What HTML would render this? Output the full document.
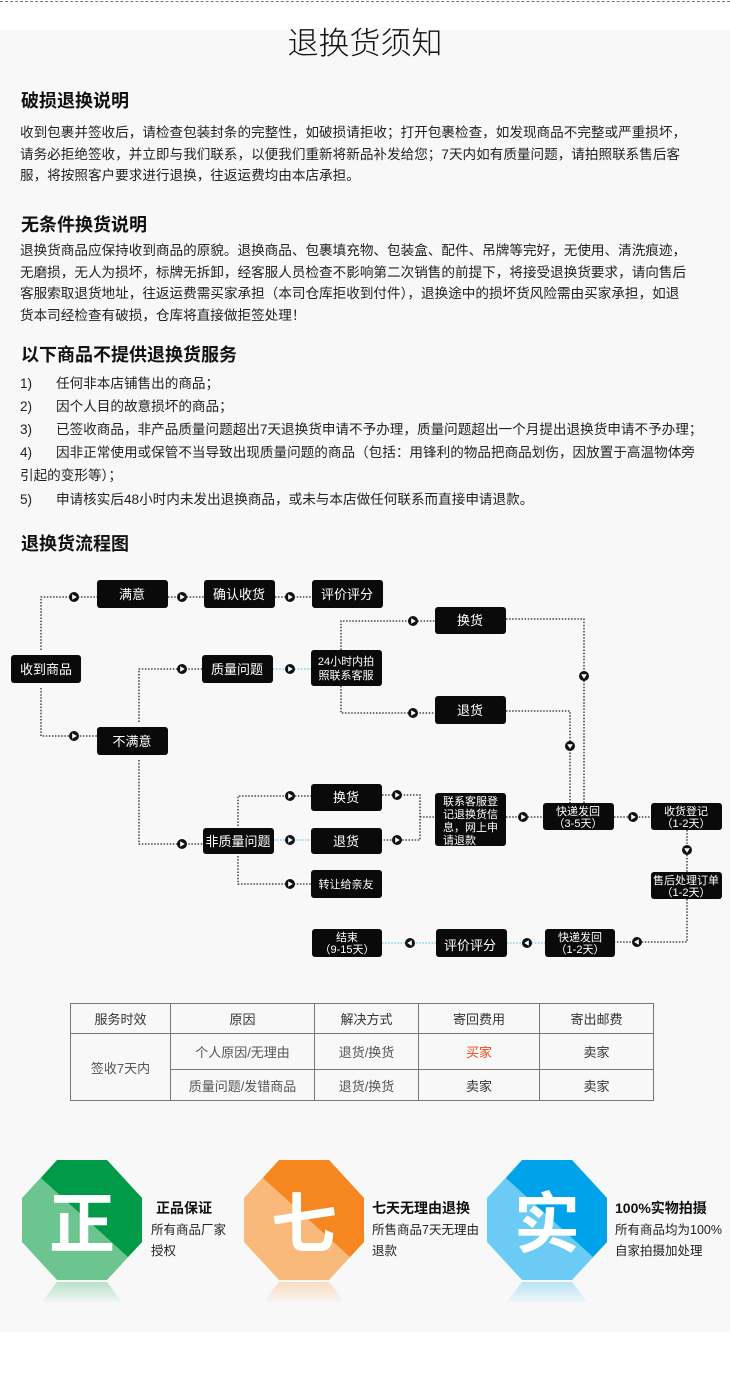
<!DOCTYPE html>
<html><head><meta charset="utf-8"><style>
*{margin:0;padding:0;box-sizing:border-box}
body{width:730px;height:1392px;background:#fff;position:relative;overflow:hidden;font-family:"Liberation Sans","Noto Sans CJK SC",sans-serif;color:#111}
.bg{position:absolute;left:0;top:30px;width:730px;height:1302px;background:#f8f8f8}
.dash{position:absolute;left:0;top:1px;width:730px;border-top:1px dashed #777}
h1{position:absolute;left:0;width:730px;top:18px;text-align:center;font-weight:300;font-size:31px;color:#111}
h2{position:absolute;left:21px;font-size:18px;font-weight:bold;color:#111}
.p{position:absolute;left:20px;font-size:13.6px;line-height:21.5px;color:#222;white-space:nowrap}
.li{position:absolute;left:20px;font-size:13.6px;line-height:18px;color:#222;white-space:nowrap}
.li span{display:inline-block;width:36px}
table{position:absolute;left:70px;top:1003px;width:584px;border-collapse:collapse;font-size:13px;color:#333}
td{border:1px solid #777;text-align:center;height:30px}
.bt{position:absolute;font-size:14px;font-weight:bold;color:#111;white-space:nowrap}
.bd{position:absolute;font-size:12.5px;line-height:21px;color:#222;white-space:nowrap}
</style></head><body>
<div class="bg"></div>
<div class="dash"></div>
<h1>退换货须知</h1>
<h2 style="top:87px">破损退换说明</h2>
<div class="p" style="top:122px">收到包裹并签收后，请检查包装封条的完整性，如破损请拒收；打开包裹检查，如发现商品不完整或严重损坏，<br>请务必拒绝签收，并立即与我们联系，以便我们重新将新品补发给您；7天内如有质量问题，请拍照联系售后客<br>服，将按照客户要求进行退换，往返运费均由本店承担。</div>
<h2 style="top:211px">无条件换货说明</h2>
<div class="p" style="top:240px">退换货商品应保持收到商品的原貌。退换商品、包裹填充物、包装盒、配件、吊牌等完好，无使用、清洗痕迹，<br>无磨损，无人为损坏，标牌无拆卸，经客服人员检查不影响第二次销售的前提下，将接受退换货要求，请向售后<br>客服索取退货地址，往返运费需买家承担（本司仓库拒收到付件），退换途中的损坏货风险需由买家承担，如退<br>货本司经检查有破损，仓库将直接做拒签处理！</div>
<h2 style="top:341px">以下商品不提供退换货服务</h2>
<div class="li" style="top:375px"><span>1)</span>任何非本店铺售出的商品；</div>
<div class="li" style="top:398px"><span>2)</span>因个人目的故意损坏的商品；</div>
<div class="li" style="top:421px"><span>3)</span>已签收商品，非产品质量问题超出7天退换货申请不予办理，质量问题超出一个月提出退换货申请不予办理；</div>
<div class="li" style="top:444px"><span>4)</span>因非正常使用或保管不当导致出现质量问题的商品（包括：用锋利的物品把商品划伤，因放置于高温物体旁</div>
<div class="li" style="top:467px">引起的变形等）；</div>
<div class="li" style="top:491px"><span>5)</span>申请核实后48小时内未发出退换商品，或未与本店做任何联系而直接申请退款。</div>
<h2 style="top:530px">退换货流程图</h2>

<svg style="position:absolute;left:0;top:0" width="730" height="1000" font-family="Liberation Sans,Noto Sans CJK SC,sans-serif">
<defs>
<g id="ar"><circle r="5" fill="#111"/><path d="M-1.8,-2.8 L2.8,0 L-1.8,2.8Z" fill="#fff"/></g>
</defs>
<g fill="none" stroke="#222" stroke-width="1.3" stroke-dasharray="1.5,1.6">
<path d="M41,650 V597 H97"/>
<path d="M41,688 V736 H97"/>
<path d="M168,597 H204 M275,597 H312"/>
<path d="M139,722 V669 H202"/>
<path d="M341,650 V621 H435 M341,686 V713 H435"/>
<path d="M506,619 H584 V803"/>
<path d="M506,711 H570 V803"/>
<path d="M139,760 V844 H203"/>
<path d="M238,826 V796 H311 M238,856 V884 H311"/>
<path d="M382,795 H420 V840 H382 M420,817 H435"/>
<path d="M506,817 H543 M614,817 H651"/>
<path d="M687,830 V872 M687,899 V942 H615"/>
</g>
<g fill="none" stroke="#6cc6f0" stroke-width="1.3" stroke-dasharray="1.5,1.6">
<path d="M273,669 H311"/>
<path d="M274,840 H311"/>
<path d="M507,943 H545"/>
<path d="M382,943 H436"/>
</g>
<use href="#ar" x="74" y="597"/><use href="#ar" x="74" y="736"/>
<use href="#ar" x="182" y="597"/><use href="#ar" x="290" y="597"/>
<use href="#ar" x="182" y="669"/><use href="#ar" x="290" y="669"/>
<use href="#ar" x="413" y="621"/><use href="#ar" x="413" y="713"/>
<use href="#ar" x="182" y="844"/>
<use href="#ar" x="290" y="796"/><use href="#ar" x="290" y="840"/><use href="#ar" x="290" y="884"/>
<use href="#ar" x="397" y="795"/><use href="#ar" x="397" y="840"/>
<use href="#ar" x="523" y="817"/><use href="#ar" x="633" y="817"/>
<g transform="translate(584,676) rotate(90)"><use href="#ar"/></g>
<g transform="translate(570,746) rotate(90)"><use href="#ar"/></g>
<g transform="translate(687,850) rotate(90)"><use href="#ar"/></g>
<g transform="translate(637,942) rotate(180)"><use href="#ar"/></g>
<g transform="translate(527,943) rotate(180)"><use href="#ar"/></g>
<g transform="translate(410,943) rotate(180)"><use href="#ar"/></g>
<g fill="#0a0a0a">
<rect x="11" y="655" width="70" height="28" rx="3"/>
<rect x="97" y="580" width="71" height="28" rx="3"/>
<rect x="204" y="580" width="71" height="28" rx="3"/>
<rect x="312" y="580" width="71" height="28" rx="3"/>
<rect x="97" y="727" width="71" height="28" rx="3"/>
<rect x="202" y="655" width="71" height="28" rx="3"/>
<rect x="311" y="650" width="71" height="36" rx="3"/>
<rect x="435" y="607" width="71" height="27" rx="3"/>
<rect x="435" y="696" width="71" height="28" rx="3"/>
<rect x="311" y="784" width="71" height="27" rx="3"/>
<rect x="311" y="828" width="71" height="26" rx="3"/>
<rect x="203" y="828" width="71" height="26" rx="3"/>
<rect x="311" y="870" width="71" height="28" rx="3"/>
<rect x="435" y="793" width="71" height="53" rx="3"/>
<rect x="543" y="803" width="71" height="27" rx="3"/>
<rect x="651" y="803" width="71" height="27" rx="3"/>
<rect x="651" y="872" width="71" height="27" rx="3"/>
<rect x="545" y="929" width="70" height="28" rx="3"/>
<rect x="436" y="929" width="71" height="28" rx="3"/>
<rect x="312" y="929" width="70" height="28" rx="3"/>
</g>
<g fill="#fff" font-size="13" text-anchor="middle">
<text x="46" y="674">收到商品</text>
<text x="132" y="599">满意</text>
<text x="239" y="599">确认收货</text>
<text x="347" y="599">评价评分</text>
<text x="132" y="746">不满意</text>
<text x="237" y="674">质量问题</text>
<text x="470" y="625">换货</text>
<text x="470" y="715">退货</text>
<text x="346" y="802">换货</text>
<text x="346" y="846">退货</text>
<text x="238" y="846">非质量问题</text>
<text x="470" y="950">评价评分</text>
</g>
<g fill="#fff" font-size="11" text-anchor="middle">
<text x="346" y="665">24小时内拍</text><text x="346" y="679">照联系客服</text>
<text x="346" y="888">转让给亲友</text>
<text x="578" y="815">快递发回</text><text x="578" y="827">（3-5天）</text>
<text x="686" y="815">收货登记</text><text x="686" y="827">（1-2天）</text>
<text x="686" y="884">售后处理订单</text><text x="686" y="896">（1-2天）</text>
<text x="580" y="941">快递发回</text><text x="580" y="953">（1-2天）</text>
<text x="347" y="941">结束</text><text x="347" y="953">（9-15天）</text>
</g>
<g fill="#fff" font-size="11">
<text x="443" y="805">联系客服登</text><text x="443" y="818">记退换货信</text><text x="443" y="831">息，网上申</text><text x="443" y="844">请退款</text>
</g>
</svg>

<table>
<tr><td style="width:100px">服务时效</td><td style="width:144px">原因</td><td style="width:104px">解决方式</td><td style="width:121px">寄回费用</td><td>寄出邮费</td></tr>
<tr style="height:36px"><td rowspan="2" style="color:#555">签收7天内</td><td style="color:#555">个人原因/无理由</td><td style="color:#555">退货/换货</td><td style="color:#f04a1a">买家</td><td>卖家</td></tr>
<tr style="height:31px"><td style="color:#555">质量问题/发错商品</td><td style="color:#555">退货/换货</td><td>卖家</td><td>卖家</td></tr>
</table>

<svg style="position:absolute;left:0;top:1150px" width="730" height="170" font-family="Liberation Sans,Noto Sans CJK SC,sans-serif">
<defs>
<linearGradient id="rg" x1="0" y1="0" x2="0" y2="1"><stop offset="0" stop-color="#f8f8f8" stop-opacity="0"/><stop offset="1" stop-color="#f8f8f8" stop-opacity="1"/></linearGradient>
</defs>
<g>
<polygon points="57,10 107,10 142,48 142,92 107,130 57,130 22,92 22,48" fill="#6cc58e"/>
<polygon points="57,10 107,10 142,48 142,92 128,107 41,28" fill="#009a48"/>
<text x="82" y="97" font-size="66" font-weight="bold" fill="#fff" text-anchor="middle">正</text>
<polygon points="57,132 107,132 122,152 42,152" fill="#6cc58e" opacity=".5"/>
</g>
<g>
<polygon points="279,10 329,10 364,48 364,92 329,130 279,130 244,92 244,48" fill="#f9b97b"/>
<polygon points="279,10 329,10 364,48 364,92 350,107 263,28" fill="#f6861f"/>
<text x="304" y="97" font-size="66" font-weight="bold" fill="#fff" text-anchor="middle">七</text>
<polygon points="279,132 329,132 344,152 264,152" fill="#f9b97b" opacity=".5"/>
</g>
<g>
<polygon points="522,10 572,10 607,48 607,92 572,130 522,130 487,92 487,48" fill="#6ccbf4"/>
<polygon points="522,10 572,10 607,48 607,92 593,107 506,28" fill="#00a3ea"/>
<text x="547" y="97" font-size="66" font-weight="bold" fill="#fff" text-anchor="middle">实</text>
<polygon points="522,132 572,132 587,152 507,152" fill="#6ccbf4" opacity=".5"/>
</g>
<rect x="0" y="130" width="730" height="25" fill="url(#rg)"/>
</svg>
<div class="bt" style="left:156px;top:1198px">正品保证</div>
<div class="bd" style="left:151px;top:1220px">所有商品厂家<br>授权</div>
<div class="bt" style="left:372px;top:1198px">七天无理由退换</div>
<div class="bd" style="left:372px;top:1220px">所售商品7天无理由<br>退款</div>
<div class="bt" style="left:615px;top:1198px">100%实物拍摄</div>
<div class="bd" style="left:615px;top:1220px">所有商品均为100%<br>自家拍摄加处理</div>
</body></html>
